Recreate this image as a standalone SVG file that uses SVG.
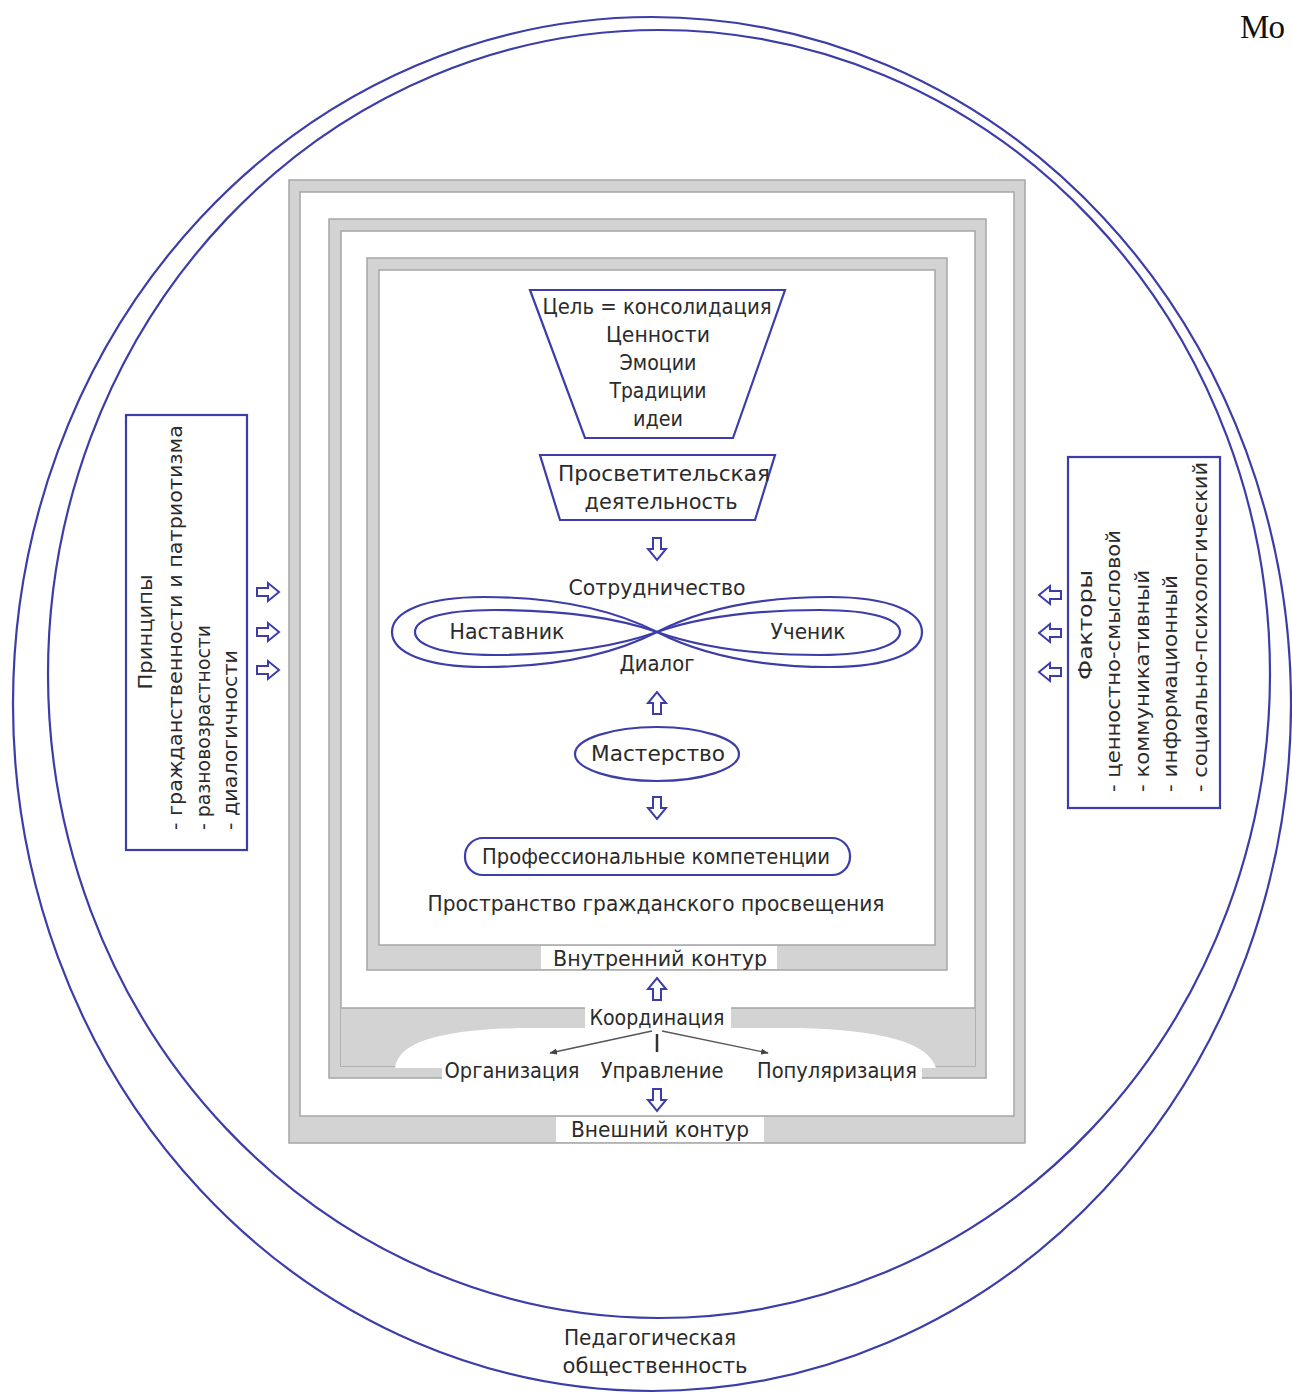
<svg xmlns="http://www.w3.org/2000/svg" xmlns:xlink="http://www.w3.org/1999/xlink" width="1292" height="1394" viewBox="0 0 1292 1394">
<style>
.t{font-family:"DejaVu Sans Condensed","Liberation Sans Narrow","Liberation Sans",sans-serif;font-size:22px;fill:#2b2b2b;text-anchor:middle}
.v{font-family:"DejaVu Sans Condensed","Liberation Sans Narrow","Liberation Sans",sans-serif;font-size:19px;fill:#2b2b2b}
.blue{fill:none;stroke:#3d3daa;stroke-width:2.2}
.arr{fill:#fff;stroke:#3d3daa;stroke-width:2;stroke-linejoin:miter}
.band{fill:#d3d3d3;stroke:#a6a6a6;stroke-width:1.5}
.in{fill:#fff;stroke:#a6a6a6;stroke-width:1.5}
.gap{fill:#fff;stroke:none}
.thin{stroke:#555;stroke-width:1.3;fill:none}
</style>
<defs>
<path id="ad" d="M-4,0 L4,0 L4,11 L9,11 L0,22 L-9,11 L-4,11 Z"/>
<marker id="mh" viewBox="0 0 10 10" refX="9" refY="5" markerWidth="6" markerHeight="6" orient="auto">
<path d="M0,1 L10,5 L0,9 Z" fill="#444"/>
</marker>
</defs>
<rect width="1292" height="1394" fill="#fff"/>
<text x="1240" y="38" font-family="Liberation Serif, serif" font-size="33" fill="#111">Мо</text>

<g id="society">
<ellipse class="blue" cx="652" cy="704" rx="639" ry="687"/>
<ellipse class="blue" cx="659" cy="674" rx="611" ry="644"/>
<text class="t" x="650" y="1345" textLength="172" lengthAdjust="spacingAndGlyphs">Педагогическая</text>
<text class="t" x="655" y="1373" textLength="185" lengthAdjust="spacingAndGlyphs">общественность</text>
</g>

<g id="outer-contour">
<rect class="band" x="289" y="180" width="736" height="963"/>
<rect class="in" x="300" y="192" width="714" height="924"/>
<rect class="gap" x="556" y="1117" width="208" height="25"/>
<text class="t" x="660" y="1137" textLength="178" lengthAdjust="spacingAndGlyphs">Внешний контур</text>
</g>

<g id="middle-contour">
<rect class="band" x="329" y="219" width="657" height="859"/>
<rect class="in" x="341" y="231" width="634" height="835"/>
<rect class="band" x="341" y="1008" width="634" height="58" style="stroke:none"/>
<line x1="341" y1="1008" x2="975" y2="1008" stroke="#a6a6a6" stroke-width="1.5"/>
<path class="gap" d="M395,1068 C398,1042 440,1030 520,1028 L800,1028 C880,1030 928,1042 936,1068 Z"/>
<rect class="gap" x="585" y="1004" width="146" height="28"/>
<rect class="gap" x="442" y="1060" width="480" height="20"/>
<text class="t" x="657" y="1025" textLength="135" lengthAdjust="spacingAndGlyphs">Координация</text>
<text class="t" x="512" y="1078" textLength="135" lengthAdjust="spacingAndGlyphs">Организация</text>
<text class="t" x="662" y="1078" textLength="123" lengthAdjust="spacingAndGlyphs">Управление</text>
<text class="t" x="837" y="1078" textLength="160" lengthAdjust="spacingAndGlyphs">Популяризация</text>
</g>

<g id="inner-contour">
<rect class="band" x="367" y="258" width="580" height="712"/>
<rect class="in" x="379" y="270" width="556" height="675"/>
<rect class="gap" x="541" y="946" width="236" height="23"/>
<text class="t" x="660" y="966" textLength="214" lengthAdjust="spacingAndGlyphs">Внутренний контур</text>
</g>

<g id="goal">
<polygon class="blue" points="530,290 785,290 733,438 585,438"/>
<text class="t" x="657" y="314" textLength="229" lengthAdjust="spacingAndGlyphs">Цель = консолидация</text>
<text class="t" x="658" y="342" textLength="104" lengthAdjust="spacingAndGlyphs">Ценности</text>
<text class="t" x="658" y="370" textLength="77" lengthAdjust="spacingAndGlyphs">Эмоции</text>
<text class="t" x="658" y="398" textLength="97" lengthAdjust="spacingAndGlyphs">Традиции</text>
<text class="t" x="658" y="426" textLength="50" lengthAdjust="spacingAndGlyphs">идеи</text>
</g>

<g id="activity">
<polygon class="blue" points="540,455 775,455 755,520 560,520"/>
<text class="t" x="664" y="481" textLength="212" lengthAdjust="spacingAndGlyphs">Просветительская</text>
<text class="t" x="661" y="509" textLength="153" lengthAdjust="spacingAndGlyphs">деятельность</text>
</g>

<g id="infinity">
<path class="blue" d="M657,632 C710,605 770,597 830,597 C890,597 922,612 922,632 C922,652 890,667 830,667 C770,667 710,659 657,632 C604,605 544,597 484,597 C424,597 392,612 392,632 C392,652 424,667 484,667 C544,667 604,659 657,632 Z"/>
<path class="blue" d="M657,632 C705,615 760,610 820,610 C875,610 900,620 900,632 C900,644 875,655 820,655 C760,655 705,649 657,632 C609,615 554,610 494,610 C439,610 415,620 415,632 C415,644 439,655 494,655 C554,655 609,649 657,632 Z"/>
<text class="t" x="657" y="595" textLength="177" lengthAdjust="spacingAndGlyphs">Сотрудничество</text>
<text class="t" x="507" y="639" textLength="115" lengthAdjust="spacingAndGlyphs">Наставник</text>
<text class="t" x="808" y="639" textLength="75" lengthAdjust="spacingAndGlyphs">Ученик</text>
<text class="t" x="657" y="671" textLength="75" lengthAdjust="spacingAndGlyphs">Диалог</text>
</g>

<g id="mastery">
<ellipse class="blue" cx="657" cy="754" rx="82" ry="27"/>
<text class="t" x="658" y="761" textLength="134" lengthAdjust="spacingAndGlyphs">Мастерство</text>
</g>

<g id="competence">
<rect class="blue" x="465" y="838" width="385" height="37" rx="18"/>
<text class="t" x="656" y="864" textLength="348" lengthAdjust="spacingAndGlyphs">Профессиональные компетенции</text>
</g>

<g id="space">
<text class="t" x="656" y="911" textLength="457" lengthAdjust="spacingAndGlyphs">Пространство гражданского просвещения</text>
</g>

<g id="principles">
<rect class="blue" x="126" y="415" width="121" height="435" style="fill:#fff"/>
<text class="v" transform="translate(152,632) rotate(-90)" text-anchor="middle" textLength="115" lengthAdjust="spacingAndGlyphs">Принципы</text>
<text class="v" transform="translate(182,830) rotate(-90)" textLength="405" lengthAdjust="spacingAndGlyphs">- гражданственности и патриотизма</text>
<text class="v" transform="translate(210,830) rotate(-90)" textLength="205" lengthAdjust="spacingAndGlyphs">- разновозрастности</text>
<text class="v" transform="translate(237,830) rotate(-90)" textLength="180" lengthAdjust="spacingAndGlyphs">- диалогичности</text>
</g>

<g id="factors">
<rect class="blue" x="1068" y="457" width="152" height="351" style="fill:#fff"/>
<text class="v" transform="translate(1092,625) rotate(-90)" text-anchor="middle" textLength="110" lengthAdjust="spacingAndGlyphs">Факторы</text>
<text class="v" transform="translate(1120,792) rotate(-90)" textLength="262" lengthAdjust="spacingAndGlyphs">- ценностно-смысловой</text>
<text class="v" transform="translate(1149,792) rotate(-90)" textLength="222" lengthAdjust="spacingAndGlyphs">- коммуникативный</text>
<text class="v" transform="translate(1177,792) rotate(-90)" textLength="217" lengthAdjust="spacingAndGlyphs">- информационный</text>
<text class="v" transform="translate(1207,792) rotate(-90)" textLength="330" lengthAdjust="spacingAndGlyphs">- социально-психологический</text>
</g>

<g id="connectors">
<use href="#ad" class="arr" transform="translate(657,538)"/>
<use href="#ad" class="arr" transform="translate(657,714) rotate(180)"/>
<use href="#ad" class="arr" transform="translate(657,797)"/>
<use href="#ad" class="arr" transform="translate(657,1000) rotate(180)"/>
<use href="#ad" class="arr" transform="translate(657,1089)"/>
<use href="#ad" class="arr" transform="translate(257,592) rotate(-90)"/>
<use href="#ad" class="arr" transform="translate(257,632) rotate(-90)"/>
<use href="#ad" class="arr" transform="translate(257,670) rotate(-90)"/>
<use href="#ad" class="arr" transform="translate(1061,595) rotate(90)"/>
<use href="#ad" class="arr" transform="translate(1061,633) rotate(90)"/>
<use href="#ad" class="arr" transform="translate(1061,672) rotate(90)"/>
<line class="thin" x1="652" y1="1031" x2="550" y2="1053" marker-end="url(#mh)"/>
<line x1="657" y1="1034" x2="657" y2="1052" stroke="#333" stroke-width="2.5"/>
<line class="thin" x1="662" y1="1031" x2="768" y2="1053" marker-end="url(#mh)"/>
</g>
</svg>
